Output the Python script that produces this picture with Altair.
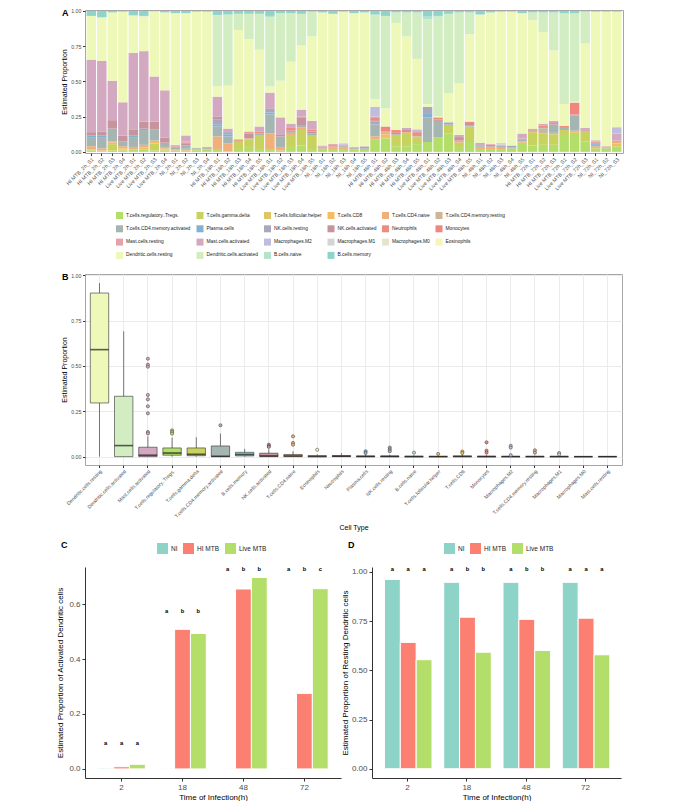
import altair as alt
import pandas as pd

FONT = "Liberation Sans"

# ---------------- Panel A data ----------------
samples = [
    "HI MTB_2h_S1", "HI MTB_2h_S2", "HI MTB_2h_S3", "HI MTB_2h_S4",
    "Live MTB_2h_S1", "Live MTB_2h_S2", "Live MTB_2h_S3", "Live MTB_2h_S4",
    "NI_2h_S1", "NI_2h_S2", "NI_2h_S3", "NI_2h_S4",
    "HI MTB_18h_S1", "HI MTB_18h_S2", "HI MTB_18h_S3", "HI MTB_18h_S4", "HI MTB_18h_S5",
    "Live MTB_18h_S1", "Live MTB_18h_S2", "Live MTB_18h_S3", "Live MTB_18h_S4", "Live MTB_18h_S5",
    "NI_18h_S1", "NI_18h_S2", "NI_18h_S3", "NI_18h_S4", "NI_18h_S5",
    "HI MTB_48h_S1", "HI MTB_48h_S2", "HI MTB_48h_S3", "HI MTB_48h_S4", "HI MTB_48h_S5",
    "Live MTB_48h_S1", "Live MTB_48h_S2", "Live MTB_48h_S3", "Live MTB_48h_S4", "Live MTB_48h_S5",
    "NI_48h_S1", "NI_48h_S2", "NI_48h_S3", "NI_48h_S4", "NI_48h_S5",
    "HI MTB_72h_S1", "HI MTB_72h_S2", "HI MTB_72h_S3",
    "Live MTB_72h_S1", "Live MTB_72h_S2", "Live MTB_72h_S3",
    "NI_72h_S1", "NI_72h_S2", "NI_72h_S3",
]

cell_types = [
    "T.cells.regulatory..Tregs.", "T.cells.gamma.delta", "T.cells.follicular.helper",
    "T.cells.CD8", "T.cells.CD4.naive", "T.cells.CD4.memory.resting",
    "T.cells.CD4.memory.activated", "Plasma.cells", "NK.cells.resting",
    "NK.cells.activated", "Neutrophils", "Monocytes",
    "Mast.cells.resting", "Mast.cells.activated", "Macrophages.M2",
    "Macrophages.M1", "Macrophages.M0", "Eosinophils",
    "Dendritic.cells.resting", "Dendritic.cells.activated", "B.cells.naive",
    "B.cells.memory",
]

cell_colors = [
    "#b3de6a", "#c8d35f", "#dfc565", "#f5bd62", "#f0b079", "#ccb697",
    "#a5b5b1", "#82b1d3", "#a8a9bd", "#c7939c", "#ef8c80", "#f2867e",
    "#e7a1a9", "#d3a9c1", "#bfbcde", "#d4d4d4", "#e5e5cd", "#f6f5b7",
    "#eef8b9", "#d3edc2", "#b4e3cc", "#8fd4c8",
]

tregs = [.01, .005, .01, .01, .015, .015, .01, .01, .01, .01, .012, .015,
         .02, .005, .02, .035, .02, .02, .01, .035, .045, .02, .02, .02, .02, .015, .015,
         .09, .095, .04, .04, .055, .07, .105, .13, .035, .07, .02, .02, .02, .025, .065,
         .045, .05, .05, .12, .135, .075, .025, .025, .04]
gamma_delta = [.005, 0, .045, .005, 0, .005, .05, .005, 0, 0, .005, 0,
               0, 0, .05, .055, .095, 0, 0, .085, .11, .095, 0, 0, 0, 0, 0,
               0, .01, .08, .095, .045, 0, 0, .055, .03, .11, 0, 0, 0, 0, 0,
               .095, .08, .075, .035, 0, .075, 0, 0, 0]
follicular_helper = [0, 0, 0, 0, 0, 0, 0, 0, 0, 0, 0, 0,
                     0, 0, 0, 0, 0, 0, 0, 0, 0, 0, 0, 0, 0, 0, 0,
                     0, 0, 0, 0, 0, 0, 0, 0, 0, 0, 0, 0, 0, 0, 0,
                     0, 0, 0, 0, 0, 0, 0, 0, 0]
cd8 = [.005, .005, .01, .01, .005, .01, .01, .01, 0, 0, 0, 0,
       0, 0, 0, 0, 0, 0, 0, 0, 0, 0, 0, 0, 0, 0, 0,
       0, .02, 0, 0, 0, 0, 0, 0, 0, 0, 0, 0, 0, 0, 0,
       0, 0, 0, 0, .015, 0, 0, 0, .02]
cd4_naive = [.02, .015, .01, .015, .015, .02, .01, .01, .008, .012, 0, .005,
             .09, .055, 0, .005, 0, .11, .025, .015, .02, 0, .005, .01, .01, .005, 0,
             .02, .015, 0, .005, .01, 0, 0, 0, .015, 0, .01, .01, .015, 0, .01,
             .01, 0, .01, 0, 0, 0, .015, 0, .01]
cd4_mem_resting = [0, 0, 0, 0, 0, 0, 0, 0, 0, 0, 0, 0,
                   0, 0, 0, 0, 0, 0, 0, 0, 0, 0, 0, 0, 0, 0, 0,
                   0, 0, 0, 0, 0, 0, 0, 0, 0, 0, 0, 0, 0, 0, 0,
                   0, .035, 0, 0, 0, 0, 0, 0, 0]
cd4_mem_activated = [.065, .08, .09, .035, .07, .105, .075, .03, .01, .025, .008, .005,
                     .07, .05, .005, 0, .015, .135, .075, .015, .01, .015, .008, .008, .01, .005, .01,
                     .085, 0, .005, 0, 0, .175, .115, .01, 0, .01, .01, .01, .008, .005, .01,
                     0, .005, .06, .015, .11, 0, .01, .005, 0]
plasma = [.01, .01, 0, 0, .013, .01, .005, 0, 0, 0, 0, 0,
          .012, .015, 0, 0, 0, .015, 0, 0, 0, 0, 0, 0, 0, 0, 0,
          0, .005, 0, 0, 0, .03, 0, 0, 0, 0, .005, 0, 0, 0, .005,
          0, 0, 0, 0, 0, 0, .008, 0, 0]
nk_resting = [0, 0, 0, 0, 0, 0, 0, 0, 0, 0, .003, 0,
              .04, .015, 0, 0, 0, .025, 0, 0, 0, 0, 0, 0, 0, 0, .01,
              .02, 0, 0, 0, .01, .045, 0, .015, 0, 0, .005, 0, 0, .015, .005,
              0, 0, 0, 0, .005, 0, 0, 0, 0]
nk_activated = [.025, .03, .06, .04, .042, .05, .055, .035, .005, .01, 0, .003,
                .02, 0, 0, .035, 0, 0, .01, 0, .06, .015, .005, 0, .005, .005, 0,
                .01, 0, .01, .015, 0, 0, .01, 0, .025, .015, .005, 0, 0, 0, 0,
                .008, 0, 0, 0, 0, .01, .007, 0, 0]
neutrophils = [0, 0, 0, 0, 0, 0, 0, 0, .005, .01, 0, 0,
               0, 0, .008, .01, .015, 0, 0, .02, .005, .015, 0, .01, 0, 0, 0,
               0, 0, .02, 0, .02, 0, .015, 0, 0, .01, 0, .01, 0, 0, 0,
               .007, .015, .01, .015, 0, 0, .01, 0, 0]
monocytes = [0, 0, 0, 0, 0, 0, 0, 0, 0, 0, 0, 0,
             0, 0, 0, 0, 0, 0, 0, 0, 0, 0, 0, 0, 0, 0, 0,
             .015, .035, 0, 0, 0, 0, 0, 0, 0, 0, 0, 0, 0, 0, 0,
             0, 0, 0, 0, .085, 0, 0, 0, 0]
mast_resting = [0, 0, 0, 0, 0, 0, 0, 0, .005, .005, 0, 0,
                0, 0, .007, 0, 0, 0, 0, 0, 0, 0, 0, .007, 0, 0, 0,
                .01, 0, 0, 0, 0, 0, 0, 0, 0, 0, 0, .005, 0, 0, .01,
                0, 0, 0, 0, 0, 0, 0, .01, .01]
mast_activated = [.515, .5, .28, .237, .543, .5, .32, .337, .007, .045, .002, .007,
                  .14, .025, 0, .005, .035, .115, .125, .03, .05, .06, .007, 0, .008, .005, .005,
                  0, 0, 0, .015, 0, 0, 0, 0, .015, 0, .01, 0, 0, 0, .025,
                  0, .015, .015, 0, 0, .01, 0, 0, .05]
macro_m2 = [0, 0, 0, 0, 0, 0, 0, 0, 0, 0, 0, 0,
            0, 0, 0, 0, 0, 0, 0, 0, 0, 0, 0, 0, .005, 0, 0,
            .07, 0, 0, 0, .02, 0, 0, 0, 0, 0, 0, 0, .007, 0, 0,
            0, 0, 0, 0, 0, 0, 0, 0, .045]
macro_m1 = [0, 0, 0, 0, 0, 0, 0, 0, 0, 0, 0, 0,
            0, 0, 0, 0, 0, 0, 0, 0, 0, 0, 0, 0, .007, 0, 0,
            0, 0, 0, 0, 0, 0, 0, 0, 0, 0, 0, 0, .015, 0, 0,
            0, 0, 0, 0, 0, 0, .01, 0, 0]
macro_m0 = [0, 0, 0, 0, 0, 0, 0, 0, 0, 0, 0, 0,
            0, 0, 0, 0, 0, 0, 0, 0, 0, 0, 0, 0, 0, 0, 0,
            0, 0, 0, 0, 0, 0, 0, 0, 0, 0, 0, 0, 0, 0, 0,
            0, 0, 0, 0, 0, 0, 0, 0, 0]
eosinophils = [0, 0, 0, 0, 0, 0, 0, 0, 0, 0, 0, 0,
               0, 0, 0, 0, 0, 0, 0, 0, 0, 0, 0, 0, 0, 0, 0,
               0, 0, 0, 0, .01, 0, 0, 0, 0, .01, 0, 0, 0, 0, 0,
               0, 0, 0, 0, 0, 0, 0, 0, 0]
dc_resting = [.31, .31, .485, .643, .262, .245, .462, .553, .935, .868, .965, .96,
              .075, .305, .775, .655, .545, .045, .26, .44, .455, .6, .945, .925, .93, .95, .95,
              .055, .13, .76, .65, .49, .02, .01, .205, .365, .61, .91, .935, .93, .95, .855,
              .77, .65, .5, .155, .005, .6, .91, .955, .82]
dc_activated = [0, 0, 0, 0, .005, .005, 0, 0, 0, 0, 0, 0,
                .505, .505, .115, .18, .255, .49, .48, .345, .225, .175, 0, 0, 0, 0, 0,
                .595, .655, .075, .17, .33, .6, .705, .565, .505, .155, 0, 0, 0, 0, 0,
                .055, .14, .27, .645, .63, .225, 0, 0, 0]
b_naive = [0, 0, 0, 0, 0, 0, 0, 0, 0, 0, 0, 0,
           0, 0, 0, 0, 0, .01, 0, 0, 0, 0, 0, 0, 0, 0, 0,
           .005, 0, 0, 0, 0, .02, .005, 0, 0, 0, 0, 0, 0, 0, 0,
           0, 0, 0, 0, 0, 0, 0, 0, 0]
b_memory = [.035, .045, .01, .005, .03, .035, .003, .01, .015, .015, .005, .005,
            .028, .025, .02, .02, .02, .035, .015, .015, .02, .005, .01, .02, .005, .015, .01,
            .025, .035, .01, .01, .01, .04, .035, .02, .01, .01, .025, .01, .005, .005, .015,
            .01, .01, .01, .015, .015, .005, .005, .005, .005]

composition = [tregs, gamma_delta, follicular_helper, cd8, cd4_naive, cd4_mem_resting,
               cd4_mem_activated, plasma, nk_resting, nk_activated, neutrophils, monocytes,
               mast_resting, mast_activated, macro_m2, macro_m1, macro_m0, eosinophils,
               dc_resting, dc_activated, b_naive, b_memory]

# ---------------- Panel B data (box statistics) ----------------
box_types = [
    "Dendritic.cells.resting", "Dendritic.cells.activated", "Mast.cells.activated",
    "T.cells.regulatory..Tregs.", "T.cells.gamma.delta", "T.cells.CD4.memory.activated",
    "B.cells.memory", "NK.cells.activated", "T.cells.CD4.naive", "Eosinophils",
    "Neutrophils", "Plasma.cells", "NK.cells.resting", "B.cells.naive",
    "T.cells.follicular.helper", "T.cells.CD8", "Monocytes", "Macrophages.M2",
    "T.cells.CD4.memory.resting", "Macrophages.M1", "Macrophages.M0", "Mast.cells.resting",
]
box_low = [0, 0, 0, 0, 0, 0, 0, 0, 0, 0, 0, 0, 0, 0, 0, 0, 0, 0, 0, 0, 0, 0]
box_q1 = [0.296, 0.0, 0.0, 0.008, 0.005, 0.0, 0.004, 0.0, 0.0, 0.0, 0.0,
          0.0, 0.0, 0.0, 0.0, 0.0, 0.0, 0.0, 0.0, 0.0, 0.0, 0.0]
box_median = [0.590, 0.061, 0.008, 0.020, 0.013, 0.002, 0.012, 0.004, 0.004, 0.001, 0.002,
              0.001, 0.001, 0.0, 0.0, 0.001, 0.0, 0.0, 0.0, 0.0, 0.0, 0.0]
box_q3 = [0.902, 0.333, 0.052, 0.048, 0.048, 0.059, 0.024, 0.019, 0.012, 0.006, 0.006,
          0.004, 0.004, 0.003, 0.002, 0.004, 0.003, 0.002, 0.002, 0.002, 0.0, 0.001]
box_high = [0.957, 0.691, 0.112, 0.105, 0.107, 0.127, 0.043, 0.040, 0.030, 0.012, 0.019,
            0.010, 0.010, 0.007, 0.005, 0.010, 0.007, 0.005, 0.005, 0.005, 0.0, 0.002]

outlier_types = (["Mast.cells.activated"] * 9 + ["T.cells.regulatory..Tregs."] * 3 +
                 ["T.cells.CD4.memory.activated"] + ["NK.cells.activated"] * 3 +
                 ["T.cells.CD4.naive"] * 3 + ["Eosinophils"] + ["Plasma.cells"] * 2 +
                 ["NK.cells.resting"] * 3 + ["B.cells.naive"] + ["T.cells.follicular.helper"] +
                 ["T.cells.CD8"] * 2 + ["Monocytes"] * 3 + ["Macrophages.M2"] * 3 +
                 ["T.cells.CD4.memory.resting"] * 2 + ["Macrophages.M1"] * 2)
outlier_values = [0.540, 0.507, 0.496, 0.340, 0.316, 0.278, 0.239, 0.136, 0.128,
                  0.145, 0.136, 0.127,
                  0.173,
                  0.066, 0.058, 0.054,
                  0.112, 0.076, 0.066,
                  0.038,
                  0.030, 0.020,
                  0.050, 0.040, 0.030,
                  0.022,
                  0.015,
                  0.028, 0.020,
                  0.079, 0.033, 0.022,
                  0.060, 0.050, 0.008,
                  0.035, 0.022,
                  0.020, 0.012]

# ---------------- Panels C & D data ----------------
times = ["2", "18", "48", "72"]
groups = ["NI", "HI MTB", "Live MTB"]
group_colors = ["#8dd3c7", "#fb8072", "#b3de69"]

activated_NI = [0.003, 0.002, 0.002, 0.002]
activated_HI = [0.008, 0.508, 0.655, 0.275]
activated_Live = [0.017, 0.493, 0.697, 0.656]
activated_letters_NI = ["a", "a", "a", "a"]
activated_letters_HI = ["a", "b", "b", "b"]
activated_letters_Live = ["a", "b", "b", "c"]
activated_letter_y = [0.096, 0.576, 0.726, 0.726]

resting_NI = [0.962, 0.947, 0.947, 0.947]
resting_HI = [0.642, 0.770, 0.759, 0.765]
resting_Live = [0.554, 0.592, 0.601, 0.579]
resting_letters_NI = ["a", "a", "a", "a"]
resting_letters_HI = ["a", "b", "b", "a"]
resting_letters_Live = ["a", "b", "b", "a"]
resting_letter_y = [1.017, 1.017, 1.017, 1.017]

# ---------------- build tables ----------------
rowsA = []
for ci, (ct, vals) in enumerate(zip(cell_types, composition)):
    for s, v in zip(samples, vals):
        if v > 0:
            rowsA.append({"sample": s, "cell": ct, "idx": ci, "value": v})
dfA = pd.DataFrame(rowsA)

dfB = pd.DataFrame({"cell": box_types, "low": box_low, "q1": box_q1,
                    "med": box_median, "q3": box_q3, "high": box_high})
dfO = pd.DataFrame({"cell": outlier_types, "v": outlier_values})


def grp_table(ni, hi, live, lni, lhi, llive, ly):
    rows = []
    for g, vals, lets in zip(groups, [ni, hi, live], [lni, lhi, llive]):
        for t, v, l, y in zip(times, vals, lets, ly):
            rows.append({"time": t, "grp": g, "value": v, "letter": l, "ly": y})
    return pd.DataFrame(rows)


dfC = grp_table(activated_NI, activated_HI, activated_Live,
                activated_letters_NI, activated_letters_HI, activated_letters_Live,
                activated_letter_y)
dfD = grp_table(resting_NI, resting_HI, resting_Live,
                resting_letters_NI, resting_letters_HI, resting_letters_Live,
                resting_letter_y)

cell_scale = alt.Scale(domain=cell_types, range=cell_colors)
grp_scale = alt.Scale(domain=groups, range=group_colors)


def panel_letter(t, dx, dy):
    return alt.Chart(pd.DataFrame({"t": [t]})).mark_text(
        fontSize=9, fontWeight="bold", align="left", baseline="top", font=FONT, fill="black"
    ).encode(text="t:N", x=alt.value(dx), y=alt.value(dy))


small_y_axis = dict(labelFontSize=5.3, labelColor="#4d4d4d", tickColor="#333333", tickSize=2.5,
                    domain=False, titleFontSize=7, titleFontWeight="normal", titleColor="black",
                    titlePadding=3, labelPadding=1.5)

# ---------------- Panel A ----------------
barsA = alt.Chart(dfA).mark_bar().encode(
    x=alt.X("sample:N", sort=samples,
            scale=alt.Scale(paddingInner=0.1, paddingOuter=0.15),
            axis=alt.Axis(title=None, labelAngle=-45, labelFontSize=5.3, labelColor="#4d4d4d",
                          tickColor="#333333", tickSize=2.5, domain=False, labelPadding=1)),
    y=alt.Y("value:Q", stack="zero",
            scale=alt.Scale(domain=[-0.008, 1.007], nice=False, zero=False),
            axis=alt.Axis(title="Estimated Proportion", values=[0, 0.25, 0.5, 0.75, 1],
                          format=".2f", grid=False, **small_y_axis)),
    color=alt.Color("cell:N", scale=cell_scale,
                    legend=alt.Legend(title=None, orient="none", legendX=31, legendY=202,
                                      direction="horizontal", columns=6,
                                      symbolType="square", symbolSize=49,
                                      symbolStrokeWidth=0, labelFontSize=4.9, labelFont=FONT,
                                      labelColor="#222222", rowPadding=6.3, columnPadding=5.5,
                                      labelOffset=3, padding=0, labelLimit=200)),
    order=alt.Order("idx:Q", sort="ascending"),
)
panelA = alt.layer(barsA, panel_letter("A", -23, -1)).properties(
    width=538, height=143, view=alt.ViewBackground(stroke="#a6a6a6", strokeWidth=1))

# ---------------- Panel B ----------------
xB = alt.X("cell:N", sort=box_types,
           scale=alt.Scale(paddingInner=0, paddingOuter=0.1),
           axis=alt.Axis(title="Cell Type", labelAngle=-45, labelFontSize=5, labelColor="#4d4d4d",
                         tickColor="#333333", tickSize=2.5, domain=False, labelPadding=1,
                         grid=True, gridColor="#ebebeb", bandPosition=0.5,
                         titleFontSize=7, titleFontWeight="normal", titleColor="black",
                         titlePadding=5))
yB_scale = alt.Scale(domain=[-0.046, 1.007], nice=False, zero=False)
yB_axis = alt.Axis(title="Estimated Proportion", values=[0, 0.125, 0.25, 0.375, 0.5, 0.625, 0.75, 0.875, 1],
                   labelExpr="datum.value % 0.25 == 0 ? format(datum.value, '.2f') : ''",
                   grid=True,
                   gridColor={"condition": {"test": "datum.value % 0.25 == 0", "value": "#ebebeb"},
                              "value": "#f6f6f6"},
                   tickOpacity={"condition": {"test": "datum.value % 0.25 == 0", "value": 1},
                                "value": 0},
                   **small_y_axis)

whiskB = alt.Chart(dfB).mark_rule(color="#555555", strokeWidth=0.8).encode(
    x=xB, y=alt.Y("low:Q", scale=yB_scale, axis=yB_axis), y2="high:Q")
boxB = alt.Chart(dfB).mark_bar(width=alt.RelativeBandSize(0.76), stroke="#333333",
                               strokeWidth=0.6).encode(
    x=xB, y=alt.Y("q1:Q", scale=yB_scale), y2="q3:Q",
    fill=alt.Fill("cell:N", scale=cell_scale, legend=None))
medB = alt.Chart(dfB).mark_tick(color="#1a1a1a", thickness=1.6, size=18.5).encode(
    x=xB, y=alt.Y("med:Q", scale=yB_scale))
outB = alt.Chart(dfO).mark_point(filled=True, size=10, stroke="#333333", strokeWidth=0.5,
                                 opacity=1, shape="circle").encode(
    x=xB, y=alt.Y("v:Q", scale=yB_scale),
    fill=alt.Fill("cell:N", scale=cell_scale, legend=None))
panelB = alt.layer(whiskB, boxB, medB, outB, panel_letter("B", -23, -1)).properties(
    width=537, height=191, view=alt.ViewBackground(stroke="#a6a6a6", strokeWidth=1))


# ---------------- Panels C & D ----------------
def group_panel(df, letter, ytitle, domain, values, fmt, width, ytitle_pad):
    xg = alt.X("time:N", sort=times,
               scale=alt.Scale(paddingInner=0.22, paddingOuter=0.21),
               axis=alt.Axis(title="Time of Infection(h)", labelAngle=0, labelFontSize=8,
                             labelColor="#4d4d4d", tickColor="#333333", tickSize=3,
                             domainColor="#333333", titleFontSize=8, titleFontWeight="normal",
                             titleColor="black", titlePadding=2, labelPadding=2))
    xo = alt.XOffset("grp:N", sort=groups, scale=alt.Scale(paddingInner=0, paddingOuter=0))
    yscale = alt.Scale(domain=domain, nice=False, zero=False)
    bars = alt.Chart(df).mark_bar(stroke="white", strokeWidth=1).encode(
        x=xg, xOffset=xo,
        y=alt.Y("value:Q", scale=yscale,
                axis=alt.Axis(title=ytitle, values=values, format=fmt, grid=False,
                              labelFontSize=8, labelColor="#4d4d4d", tickColor="#333333",
                              tickSize=3, domainColor="#333333", titleFontSize=8,
                              titleFontWeight="normal", titleColor="black",
                              titlePadding=ytitle_pad, labelPadding=2)),
        color=alt.Color("grp:N", scale=grp_scale,
                        legend=alt.Legend(title=None, orient="none", legendX=72, legendY=-24,
                                          direction="horizontal", symbolType="square",
                                          symbolSize=121, symbolStrokeWidth=0,
                                          labelFontSize=6.5, labelFont=FONT, labelColor="#222222",
                                          columnPadding=5, labelOffset=3, padding=0)),
    )
    letters = alt.Chart(df).mark_text(fontSize=5.8, fontWeight="bold", fill="black",
                                      font=FONT).encode(
        x=alt.X("time:N", sort=times), xOffset=alt.XOffset("grp:N", sort=groups),
        y=alt.Y("ly:Q", scale=yscale), text="letter:N")
    return alt.layer(bars, letters, panel_letter(letter, -24, -26)).properties(
        width=width, height=211)


panelC = group_panel(dfC, "C", "Estimated Proportion of Activated Dendritic cells",
                     [-0.033, 0.735], [0, 0.2, 0.4, 0.6], ".1f", 256, 4)
panelD = group_panel(dfD, "D", "Estimated Proportion of Resting Dendritic cells",
                     [-0.047, 1.025], [0, 0.25, 0.5, 0.75, 1], ".2f", 249, 2)

bottom = alt.hconcat(panelC, panelD, spacing=0).resolve_scale(color="independent")
top = alt.vconcat(panelA, panelB, spacing=12).resolve_scale(color="independent", fill="independent")

chart = alt.vconcat(top, bottom, spacing=9).resolve_scale(
    color="independent", fill="independent"
).properties(
    padding={"left": 48, "top": 0, "right": 5, "bottom": 0}
).configure(font=FONT).configure_view(stroke=None)

chart.save("out.html", embed_options={"renderer": "svg", "actions": False})
